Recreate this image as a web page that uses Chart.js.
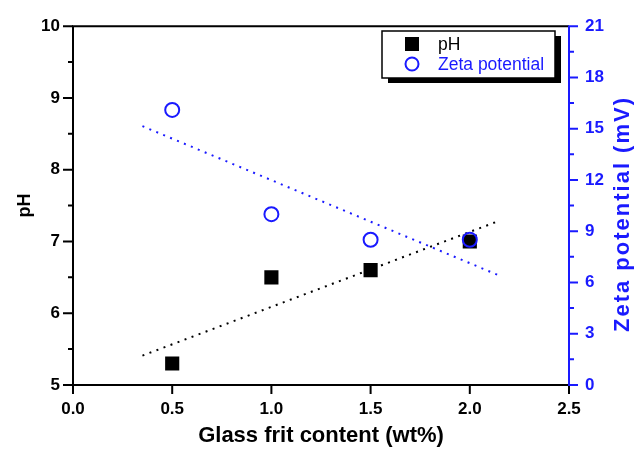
<!DOCTYPE html>
<html><head><meta charset="utf-8">
<script src="https://cdn.jsdelivr.net/npm/chart.js@4/dist/chart.umd.min.js"></script>
<style>html,body{margin:0;padding:0;background:#fff;}</style>
</head><body>
<canvas id="c" width="638" height="449" style="width:638px;height:449px;display:block"></canvas>
<script>
// ---- data ----
const glassFrit = [0.5, 1.0, 1.5, 2.0];
const pHValues = [5.3, 6.5, 6.6, 7.0];
const zetaValues = [16.1, 10.0, 8.5, 8.5];
const fitRange = [0.35, 2.15];
const pHFit = [5.41, 7.29];
const zetaFit = [15.15, 6.40];
const xTicks = [0, 0.5, 1.0, 1.5, 2.0, 2.5];
const pHTicks = [5, 6, 7, 8, 9, 10];
const zetaTicks = [0, 3, 6, 9, 12, 15, 18, 21];
const seriesNames = ['pH', 'Zeta potential'];
const xTitle = 'Glass frit content (wt%)';
const yTitle = 'pH';
const y1Title = 'Zeta potential (mV)';

const BLUE = '#1a1aff';
const FONT = "'Liberation Sans', Arial, sans-serif";

const toPts = (xs, ys) => xs.map((x, i) => ({x, y: ys[i]}));

const framePlugin = {
  id: 'frame',
  afterDraw(chart) {
    const ctx = chart.ctx;
    const a = chart.chartArea;
    const sx = chart.scales.x, sy = chart.scales.y, sy1 = chart.scales.y1;
    ctx.save();
    ctx.lineWidth = 2;
    ctx.lineCap = 'butt';
    ctx.strokeStyle = '#000';
    ctx.beginPath();
    ctx.moveTo(a.left, a.top); ctx.lineTo(a.left, a.bottom);
    ctx.moveTo(a.left - 1, a.bottom); ctx.lineTo(a.right, a.bottom);
    ctx.moveTo(a.left - 1, a.top); ctx.lineTo(a.right, a.top);
    ctx.stroke();
    ctx.beginPath();
    for (let v = 0; v <= 2.5001; v += 0.5) {
      const px = sx.getPixelForValue(v);
      ctx.moveTo(px, a.bottom); ctx.lineTo(px, a.bottom + 9);
    }
    for (let v = 5; v <= 10.0001; v += 0.5) {
      const py = sy.getPixelForValue(v);
      const major = pHTicks.some(t => Math.abs(t - v) < 1e-6);
      ctx.moveTo(a.left, py); ctx.lineTo(a.left - (major ? 10 : 5), py);
    }
    ctx.stroke();
    ctx.strokeStyle = BLUE;
    ctx.beginPath();
    ctx.moveTo(a.right, a.top - 1); ctx.lineTo(a.right, a.bottom + 1);
    for (let v = 0; v <= 21.0001; v += 1.5) {
      const py = sy1.getPixelForValue(v);
      const major = zetaTicks.some(t => Math.abs(t - v) < 1e-6);
      ctx.moveTo(a.right, py); ctx.lineTo(a.right + (major ? 9 : 5), py);
    }
    ctx.stroke();
    // right axis title, reading bottom-to-top
    ctx.translate(622, 215);
    ctx.rotate(-Math.PI / 2);
    ctx.fillStyle = BLUE;
    ctx.font = 'bold 22px ' + FONT;
    ctx.letterSpacing = '2px';
    ctx.textAlign = 'center';
    ctx.textBaseline = 'middle';
    ctx.fillText(y1Title, 1, 1);
    ctx.restore();
  }
};

const legendPlugin = {
  id: 'boxLegend',
  afterDraw(chart) {
    const ctx = chart.ctx;
    const bx = 382, by = 31, bw = 173, bh = 47;
    ctx.save();
    ctx.fillStyle = '#000';
    ctx.fillRect(bx + 6, by + 5, bw, bh);
    ctx.fillStyle = '#fff';
    ctx.fillRect(bx, by, bw, bh);
    ctx.strokeStyle = '#000';
    ctx.lineWidth = 1.5;
    ctx.strokeRect(bx, by, bw, bh);
    const items = chart.data.datasets.filter(d => d.legendIndex !== undefined)
      .sort((p, q) => p.legendIndex - q.legendIndex);
    items.forEach((d, i) => {
      const cy = by + 13 + i * 20;
      const cx = bx + 30;
      ctx.lineWidth = 2;
      if (d.pointStyle === 'rect') {
        ctx.fillStyle = d.backgroundColor;
        ctx.fillRect(cx - 7, cy - 7, 14, 14);
      } else {
        ctx.strokeStyle = d.borderColor;
        ctx.beginPath();
        ctx.arc(cx, cy, 6.5, 0, Math.PI * 2);
        ctx.stroke();
      }
      ctx.fillStyle = d.legendColor;
      ctx.font = '17.5px ' + FONT;
      ctx.textBaseline = 'middle';
      ctx.textAlign = 'left';
      ctx.fillText(d.label, bx + 56, cy + 1);
    });
    ctx.restore();
  }
};

new Chart(document.getElementById('c'), {
  type: 'scatter',
  data: {
    datasets: [
      {
        label: seriesNames[1], legendIndex: 1, legendColor: BLUE,
        data: toPts(glassFrit, zetaValues), yAxisID: 'y1',
        pointStyle: 'circle', pointRadius: 7, pointBorderWidth: 2,
        borderColor: BLUE, backgroundColor: 'rgba(0,0,0,0)', order: 0
      },
      {
        label: seriesNames[0], legendIndex: 0, legendColor: '#000',
        data: toPts(glassFrit, pHValues), yAxisID: 'y',
        pointStyle: 'rect', pointRadius: 10, pointBorderWidth: 0,
        borderColor: '#000', backgroundColor: '#000', order: 1
      },
      {
        type: 'line', label: 'pH fit', data: toPts(fitRange, pHFit), yAxisID: 'y',
        borderColor: '#000', borderWidth: 2, borderDash: [2, 5.5], pointRadius: 0,
        fill: false, order: 2
      },
      {
        type: 'line', label: 'Zeta fit', data: toPts(fitRange, zetaFit), yAxisID: 'y1',
        borderColor: BLUE, borderWidth: 2, borderDash: [2, 5.5], pointRadius: 0,
        fill: false, order: 3
      }
    ]
  },
  options: {
    responsive: false, animation: false, devicePixelRatio: 1,
    layout: { padding: { top: 22, left: 0, right: 0, bottom: 0 } },
    plugins: { legend: { display: false }, tooltip: { enabled: false } },
    scales: {
      x: {
        type: 'linear', position: 'bottom', min: 0, max: 2.5,
        afterBuildTicks: s => { s.ticks = xTicks.map(v => ({value: v})); },
        ticks: { callback: v => Number(v).toFixed(1), color: '#000', padding: 14,
                 font: { family: FONT, size: 17, weight: 'bold' }, maxRotation: 0, autoSkip: false },
        grid: { display: false, drawTicks: false }, border: { display: false },
        title: { display: true, text: xTitle, color: '#000', padding: { top: 0, bottom: 0 },
                 font: { family: FONT, size: 22, weight: 'bold' } },
        afterFit: s => { s.height = 64; }
      },
      y: {
        type: 'linear', position: 'left', min: 5, max: 10,
        afterBuildTicks: s => { s.ticks = pHTicks.map(v => ({value: v})); },
        ticks: { callback: v => String(v), color: '#000', padding: 13,
                 font: { family: FONT, size: 17, weight: 'bold' }, autoSkip: false },
        grid: { display: false, drawTicks: false }, border: { display: false },
        title: { display: true, text: yTitle, color: '#000', padding: { top: 14, bottom: 0 },
                 font: { family: FONT, size: 18, weight: 'bold' } },
        afterFit: s => { s.width = 73; }
      },
      y1: {
        type: 'linear', position: 'right', min: 0, max: 21,
        afterBuildTicks: s => { s.ticks = zetaTicks.map(v => ({value: v})); },
        ticks: { callback: v => String(v), color: BLUE, padding: 16,
                 font: { family: FONT, size: 17, weight: 'bold' }, autoSkip: false },
        grid: { display: false, drawTicks: false }, border: { display: false },
        title: { display: false },
        afterFit: s => { s.width = 69; }
      }
    }
  },
  plugins: [framePlugin, legendPlugin]
});
</script>
</body></html>
